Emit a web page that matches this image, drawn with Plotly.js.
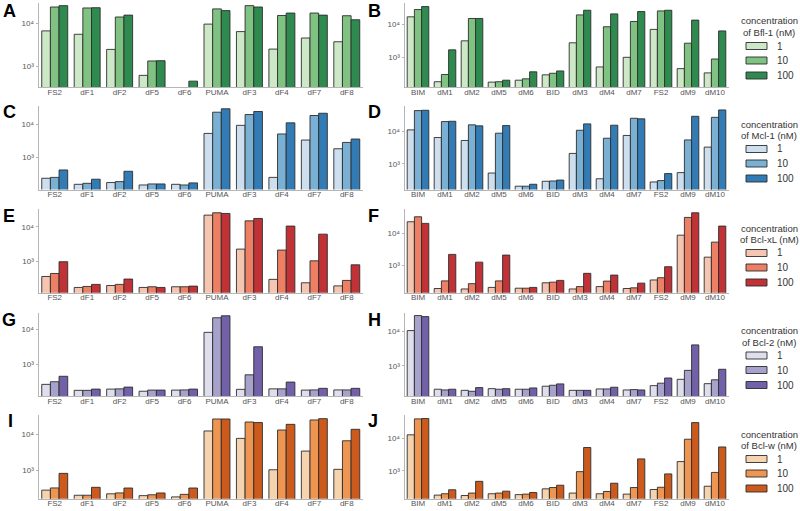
<!DOCTYPE html>
<html><head><meta charset="utf-8">
<script src="https://cdn.plot.ly/plotly-3.0.1.min.js"></script>
<style>html,body{margin:0;padding:0;background:#fff}#chart{width:800px;height:511px}</style>
</head><body><div id="chart"></div><script>
// categories
const catF = ['FS2','dF1','dF2','dF5','dF6','PUMA','dF3','dF4','dF7','dF8'];
const catM = ['BIM','dM1','dM2','dM5','dM6','BID','dM3','dM4','dM7','FS2','dM9','dM10'];
const concLabels = ['1','10','100'];
const proteins = ['Bfl-1','Mcl-1','Bcl-xL','Bcl-2','Bcl-w'];
const letters = ['A','B','C','D','E','F','G','H','I','J'];
const yTickVals = [1000, 10000];
const yTickText = ['10³', '10⁴'];

// A: Bfl-1, FS2 variants
const A_1   = [6600, 5500, 2440, 605, null, 9500, 6350, 2480, 4500, 3680];
const A_10  = [23800, 22600, 13900, 1310, null, 21500, 25600, 15100, 17200, 14900];
const A_100 = [25600, 22900, 15400, 1330, 443, 19600, 23800, 17200, 15400, 12000];
// B: Bfl-1, BIM variants
const B_1   = [16600, 178, 3100, 173, 198, 288, 2700, 500, 980, 6900, 444, 330];
const B_10  = [27600, 295, 14800, 178, 218, 321, 19000, 8300, 12000, 25100, 2630, 870];
const B_100 = [34000, 1650, 14800, 198, 355, 378, 26300, 20400, 24000, 26300, 13200, 6200];
// C: Mcl-1
const C_1   = [235, 154, 174, 147, 154, 5400, 9500, 250, 3400, 1850];
const C_10  = [250, 165, 186, 158, 147, 23800, 20200, 5200, 18900, 2880];
const C_100 = [420, 220, 383, 158, 170, 30200, 25000, 11300, 22100, 3650];
// D: Mcl-1
const D_1   = [11000, 6400, 5200, 520, 205, 290, 2080, 347, 7400, 276, 535, 3250];
const D_10  = [43000, 19800, 15700, 8700, 205, 296, 10700, 6100, 25000, 305, 5400, 26700];
const D_100 = [44000, 20200, 14600, 14900, 235, 316, 16800, 15300, 24000, 500, 28700, 45000];
// E: Bcl-xL
const E_1   = [357, 171, 195, 171, 179, 21900, 2240, 294, 234, 190];
const E_10  = [437, 183, 210, 179, 179, 25600, 14900, 2100, 1020, 274];
const E_100 = [960, 210, 300, 171, 187, 24500, 17500, 10500, 6100, 780];
// F: Bcl-xL
const F_1   = [23300, 183, 177, 198, 187, 277, 177, 210, 183, 340, 8800, 1780];
const F_10  = [33400, 318, 260, 318, 187, 290, 210, 313, 192, 400, 31900, 5300];
const F_100 = [20700, 2180, 1240, 2070, 198, 330, 550, 485, 270, 890, 44600, 17000];
// G: Bcl-2
const G_1   = [260, 175, 190, 165, 178, 8200, 187, 193, 178, 180];
const G_10  = [310, 175, 193, 178, 180, 21600, 490, 193, 180, 180];
const G_100 = [445, 190, 217, 178, 190, 24600, 3150, 303, 200, 200];
// H: Bcl-2
const H_1   = [10700, 210, 195, 218, 210, 257, 195, 214, 200, 267, 408, 305];
const H_10  = [29300, 200, 183, 210, 210, 274, 195, 214, 205, 315, 745, 395];
const H_100 = [27300, 210, 234, 218, 229, 300, 195, 240, 200, 445, 4100, 800];
// I: Bcl-w
const I_1   = [275, 198, 217, 193, 178, 12400, 7700, 1020, 3400, 1050];
const I_10  = [317, 198, 230, 204, 210, 26800, 22100, 13200, 25200, 6600];
const I_100 = [810, 330, 315, 229, 315, 26800, 21300, 19000, 27400, 13800];
// J: Bcl-w
const J_1   = [12700, 182, 177, 200, 188, 283, 210, 200, 195, 270, 1930, 340];
const J_10  = [39000, 200, 210, 210, 195, 310, 950, 235, 310, 316, 9300, 900];
const J_100 = [40000, 265, 480, 240, 218, 365, 5200, 420, 2330, 810, 30000, 5400];

const panelData = [
  [A_1, A_10, A_100], [B_1, B_10, B_100],
  [C_1, C_10, C_100], [D_1, D_10, D_100],
  [E_1, E_10, E_100], [F_1, F_10, F_100],
  [G_1, G_10, G_100], [H_1, H_10, H_100],
  [I_1, I_10, I_100], [J_1, J_10, J_100]
];

// styles
const palettes = [
  ['#cde8c7', '#80c282', '#2f8a50'],
  ['#cddeee', '#79b0d3', '#327bb5'],
  ['#f4c5b1', '#ec7f64', '#c03236'],
  ['#dedeed', '#a6a2cb', '#7261a8'],
  ['#f5d3ae', '#ee9552', '#cc5a1c']
];
const yRanges = [
  [2.51, 4.47], [2.09, 4.64],
  [2.03, 4.58], [2.21, 4.79],
  [2.08, 4.51], [2.13, 4.76],
  [2.08, 4.48], [2.125, 4.55],
  [2.20, 4.54], [2.15, 4.71]
];
const W = 800, H = 511;
const colPx = [[38.5, 363], [404.5, 728.5]];
const rowPx = [[3, 87], [105.5, 189.5], [209.3, 292.7], [312.7, 396], [415, 498.7]];
const letterPos = [[9, 11], [374, 11], [9, 112], [374, 112], [9, 216], [373, 216], [9, 319.5], [374, 319.5], [10, 421], [373, 421]];
const legTitleY = [21, 124, 228, 330.5, 434];
const FONT = 'Liberation Sans, Arial, Helvetica, sans-serif';
const EDGE = 'rgba(45,45,45,0.9)';

const traces = [];
const layout = {
  width: W, height: H,
  margin: {l: 0, r: 0, t: 0, b: 0},
  paper_bgcolor: '#ffffff', plot_bgcolor: '#ffffff',
  barmode: 'group', bargap: 0.2, bargroupgap: 0,
  hovermode: false, showlegend: false,
  font: {family: FONT, color: '#333'},
  annotations: [], shapes: []
};

for (let p = 0; p < 10; p++) {
  const row = Math.floor(p / 2), col = p % 2, n = p + 1;
  const cats = col === 0 ? catF : catM;
  for (let k = 0; k < 3; k++) {
    traces.push({
      type: 'bar', x: cats, y: panelData[p][k], name: concLabels[k],
      xaxis: 'x' + n, yaxis: 'y' + n,
      marker: {color: palettes[row][k], line: {color: EDGE, width: 1}}
    });
  }
  const xs = n === 1 ? '' : n;
  layout['xaxis' + xs] = {
    domain: [colPx[col][0] / W, colPx[col][1] / W],
    anchor: 'y' + n, type: 'category',
    categoryorder: 'array', categoryarray: cats,
    range: [-0.5, cats.length - 0.5],
    showline: true, linecolor: '#b5b5b5', linewidth: 1,
    ticks: '', ticklen: 0, ticklabelstandoff: -3,
    showgrid: false, zeroline: false,
    tickfont: {size: 8, color: '#555', family: FONT}
  };
  layout['yaxis' + xs] = {
    domain: [1 - rowPx[row][1] / H, 1 - rowPx[row][0] / H],
    anchor: 'x' + n, type: 'log', range: yRanges[p],
    showline: true, linecolor: '#b5b5b5', linewidth: 1,
    showgrid: false, zeroline: false,
    tickvals: yTickVals, ticktext: yTickText,
    ticks: 'outside', ticklen: 2, tickcolor: '#b5b5b5',
    tickfont: {size: 8, color: '#555', family: FONT}
  };
  layout.annotations.push({
    xref: 'paper', yref: 'paper',
    x: letterPos[p][0] / W, y: 1 - letterPos[p][1] / H,
    xanchor: 'center', yanchor: 'middle', showarrow: false,
    text: '<b>' + letters[p] + '</b>',
    font: {size: 18, color: '#000', family: FONT}
  });
}

// legends (one per row), drawn as swatches + labels
const itemOffsets = [25, 39.5, 54.5];
for (let r = 0; r < 5; r++) {
  const t = legTitleY[r];
  layout.annotations.push({
    xref: 'paper', yref: 'paper', x: 769 / W, y: 1 - t / H,
    xanchor: 'center', yanchor: 'middle', showarrow: false,
    text: 'concentration', font: {size: 9.5, color: '#333', family: FONT}
  });
  layout.annotations.push({
    xref: 'paper', yref: 'paper', x: 769 / W, y: 1 - (t + 11.5) / H,
    xanchor: 'center', yanchor: 'middle', showarrow: false,
    text: 'of ' + proteins[r] + ' (nM)', font: {size: 9.5, color: '#333', family: FONT}
  });
  for (let k = 0; k < 3; k++) {
    const yc = t + itemOffsets[k];
    layout.shapes.push({
      type: 'rect', xref: 'paper', yref: 'paper',
      x0: 746 / W, x1: 767 / W, y0: 1 - (yc + 3.5) / H, y1: 1 - (yc - 3.5) / H,
      fillcolor: palettes[r][k], line: {color: EDGE, width: 1}
    });
    layout.annotations.push({
      xref: 'paper', yref: 'paper', x: 775 / W, y: 1 - yc / H,
      xanchor: 'left', yanchor: 'middle', showarrow: false,
      text: concLabels[k], font: {size: 10, color: '#333', family: FONT}
    });
  }
}

Plotly.newPlot('chart', traces, layout, {displayModeBar: false, staticPlot: true});
</script></body></html>
